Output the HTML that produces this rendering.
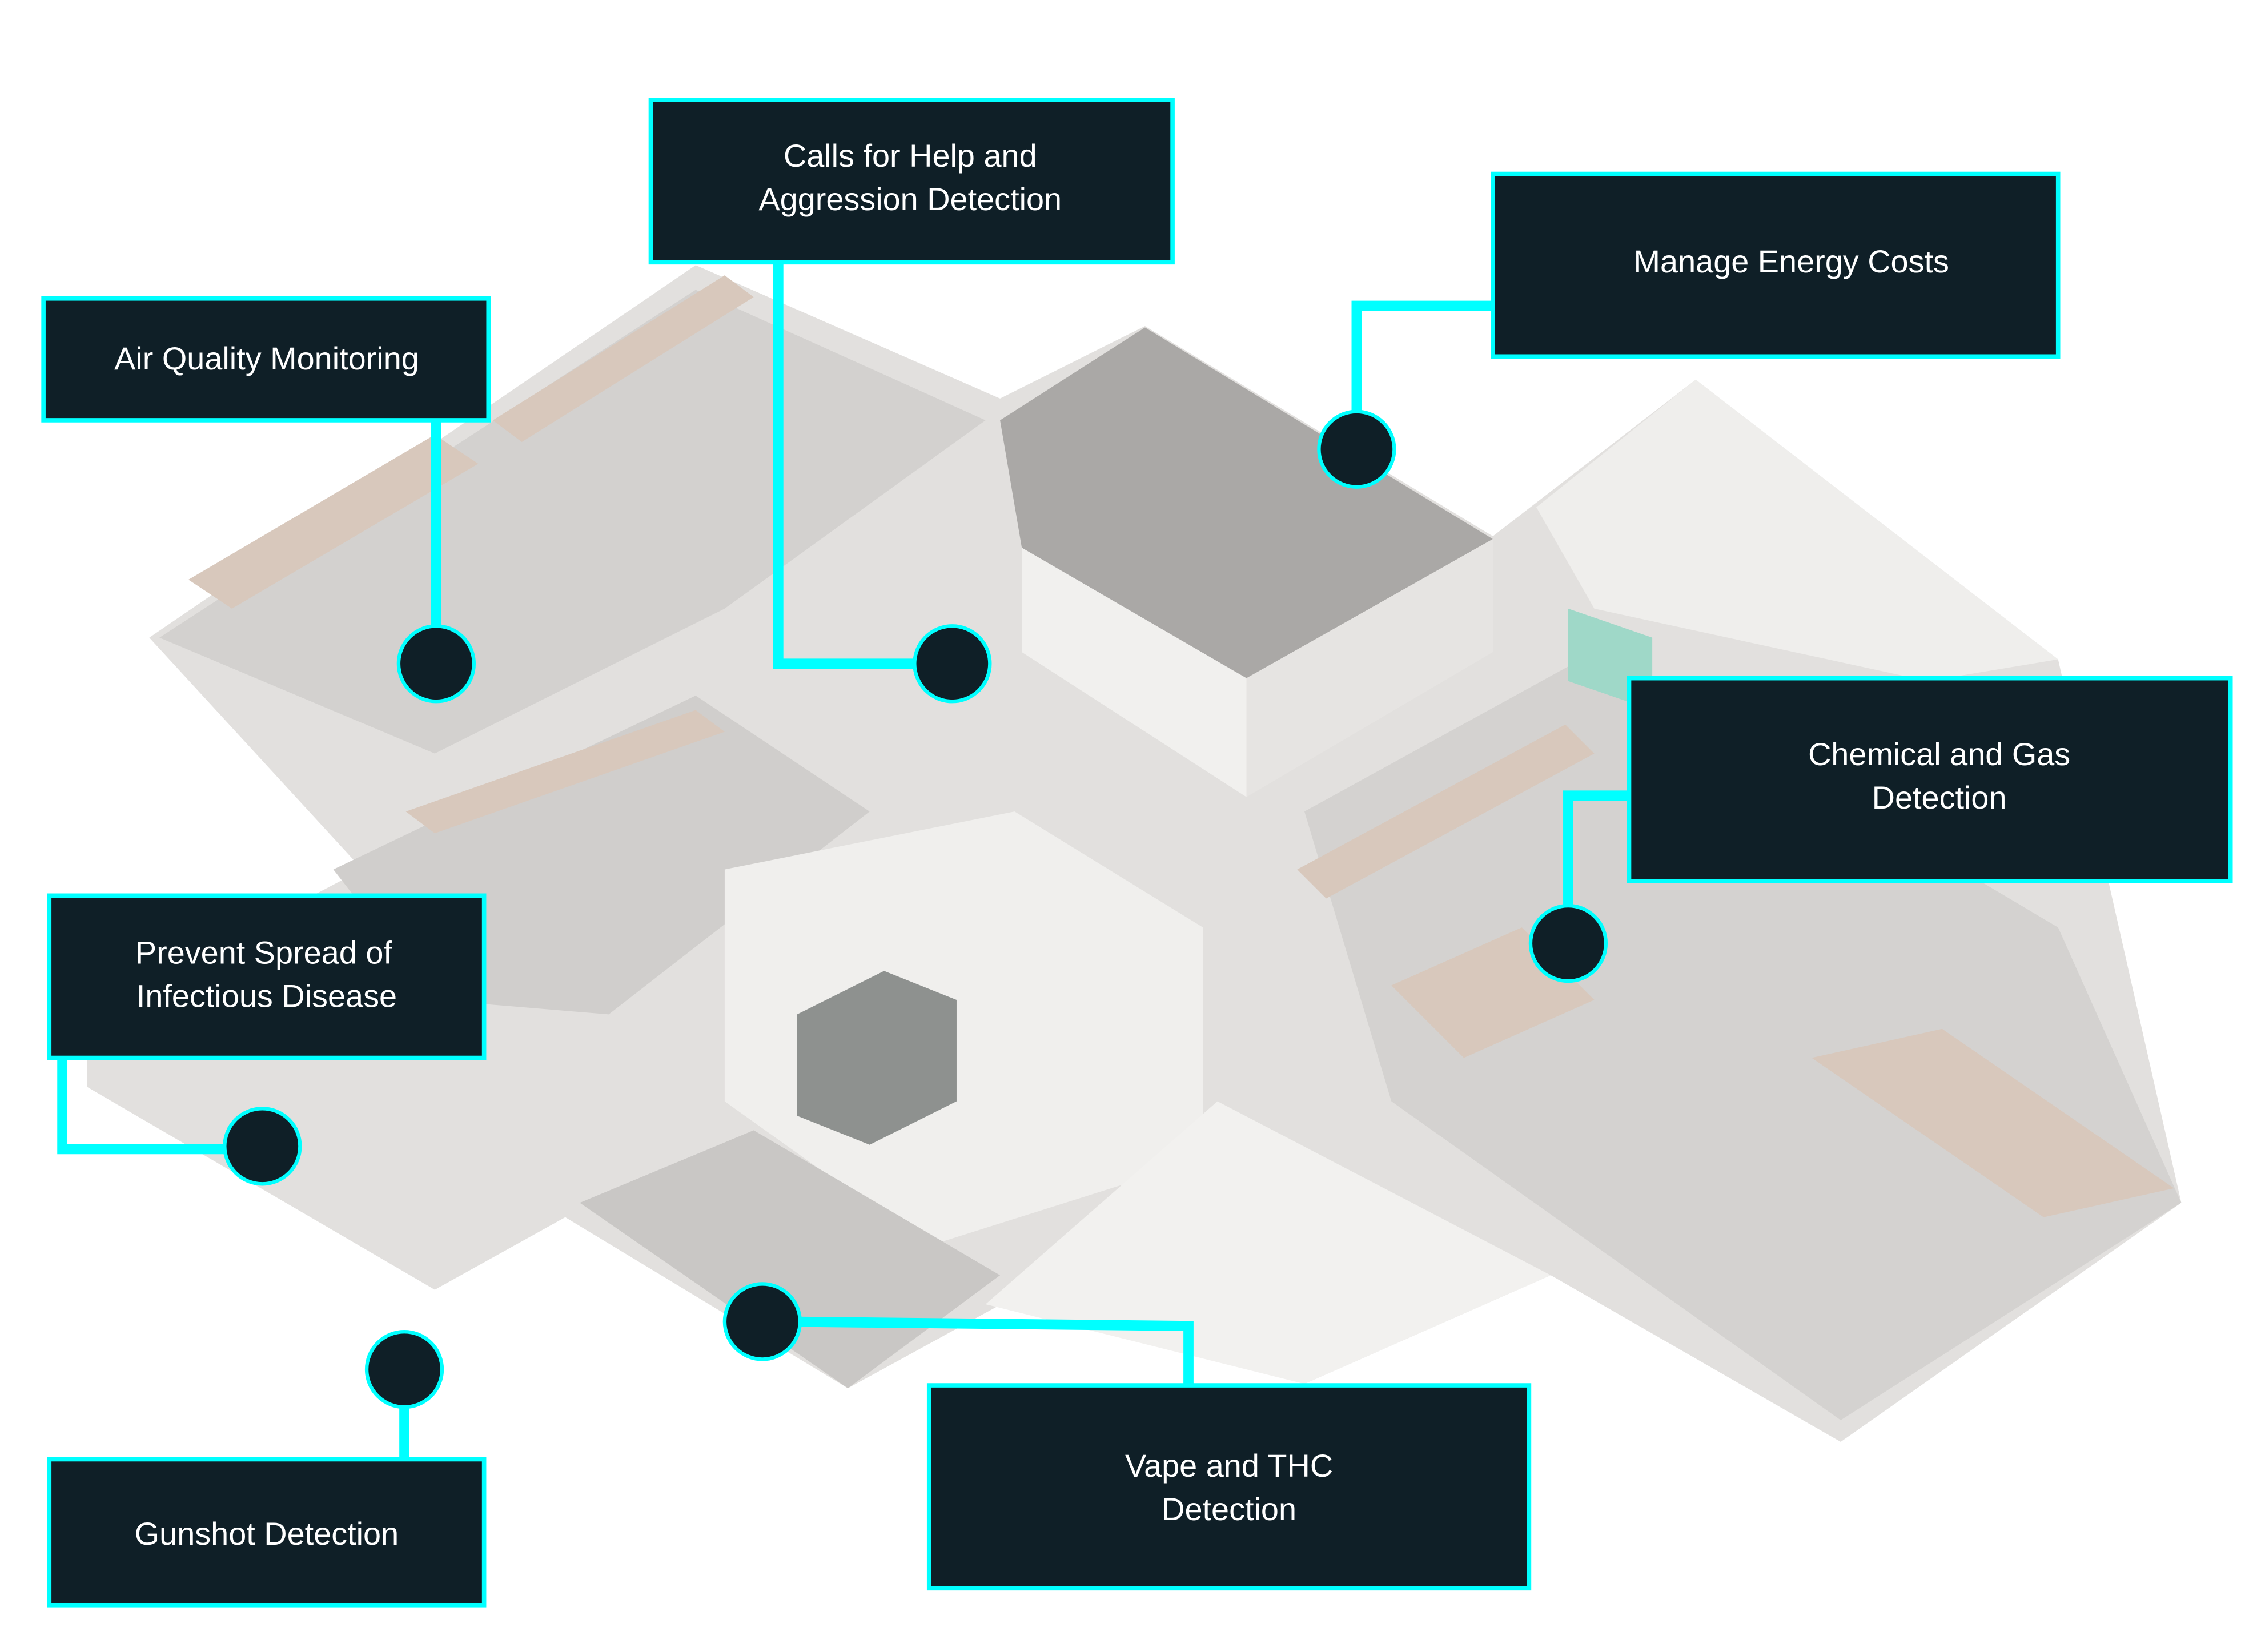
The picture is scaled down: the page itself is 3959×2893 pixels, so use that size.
<!DOCTYPE html>
<html><head><meta charset="utf-8"><style>
html,body{margin:0;padding:0;background:#fff;}
svg{display:block;}
</style></head><body>
<svg width="3959" height="2893" viewBox="0 0 1560 1140" preserveAspectRatio="none" xmlns="http://www.w3.org/2000/svg">
<rect width="1560" height="1140" fill="#fff"/>
<!-- floor plan approximation -->
<polygon points="103,440 480,183 690,275 790,225 1030,370 1170,262 1420,455 1505,830 1270,995 1070,880 900,955 700,895 585,958 390,840 300,890 60,750 60,700 250,600 103,440" fill="#e2e0de"/>
<polygon points="110,440 480,200 680,290 500,420 300,520" fill="#d3d1cf"/>
<polygon points="230,600 480,480 600,560 420,700 300,690" fill="#d0cecc"/>
<polygon points="900,560 1100,450 1420,640 1505,830 1270,980 960,760" fill="#d4d2d0"/>
<polygon points="500,600 700,560 830,640 830,800 640,860 500,760" fill="#f0efed"/>
<polygon points="680,900 840,760 1070,880 900,955" fill="#f2f1ef"/>
<polygon points="400,830 520,780 690,880 585,958" fill="#c9c7c5"/>
<polygon points="1060,350 1170,262 1420,455 1330,470 1100,420" fill="#efeeec"/>
<!-- tan desks -->
<polygon points="130,400 300,300 330,320 160,420" fill="#d8c8bc"/>
<polygon points="340,290 500,190 520,205 360,305" fill="#d8c8bc"/>
<polygon points="280,560 480,490 500,505 300,575" fill="#d8c8bc"/>
<polygon points="895,600 1080,500 1100,520 915,620" fill="#d8c8bc"/>
<polygon points="1250,730 1340,710 1500,820 1410,840" fill="#d8c8bc"/>
<polygon points="960,680 1050,640 1100,690 1010,730" fill="#d8c8bc"/>
<!-- roof -->
<polygon points="690,290 790,226 1030,372 860,468 705,378" fill="#aaa8a6"/>
<polygon points="705,378 860,468 860,550 705,450" fill="#f1f0ee"/>
<polygon points="860,468 1030,372 1030,450 860,550" fill="#e6e4e2"/>
<polygon points="550,700 610,670 660,690 660,760 600,790 550,770" fill="#8e918f"/>
<polygon points="1082,420 1140,440 1140,490 1082,470" fill="#9fd8c8"/>

<!-- connectors -->
<g stroke="#00ffff" stroke-width="7" fill="none" stroke-linejoin="miter">
<polyline points="301,291 301,440"/>
<polyline points="537,182 537,458 640,458"/>
<polyline points="1029,211 936,211 936,290"/>
<polyline points="1123,549 1082,549 1082,630"/>
<polyline points="43,731 43,793 165,793"/>
<polyline points="279,960 279,1006"/>
<polyline points="540,912 820,915 820,955"/>
</g>
<g fill="#0f1f27" stroke="#00ffff" stroke-width="2.5">
<circle cx="301" cy="458" r="26"/>
<circle cx="657" cy="458" r="26"/>
<circle cx="936" cy="310" r="26"/>
<circle cx="1082" cy="651" r="26"/>
<circle cx="181" cy="791" r="26"/>
<circle cx="279" cy="945" r="26"/>
<circle cx="526" cy="912" r="26"/>
</g>
<g fill="#0f1f27" stroke="#00ffff" stroke-width="3">
<rect x="449" y="69" width="360" height="112"/>
<rect x="1030" y="120" width="390" height="126"/>
<rect x="30" y="206" width="307" height="84"/>
<rect x="1124" y="468" width="415" height="140"/>
<rect x="34" y="618" width="300" height="112"/>
<rect x="34" y="1007" width="300" height="101"/>
<rect x="641" y="956" width="414" height="140"/>
</g>
<g fill="#fff" font-family="Liberation Sans, sans-serif" font-size="22" text-anchor="middle">
<text x="628" y="115">Calls for Help and</text>
<text x="628" y="145">Aggression Detection</text>
<text x="1236" y="188">Manage Energy Costs</text>
<text x="184" y="255">Air Quality Monitoring</text>
<text x="1338" y="528">Chemical and Gas</text>
<text x="1338" y="558">Detection</text>
<text x="182" y="665">Prevent Spread of</text>
<text x="184" y="695">Infectious Disease</text>
<text x="184" y="1066">Gunshot Detection</text>
<text x="848" y="1019">Vape and THC</text>
<text x="848" y="1049">Detection</text>
</g>
</svg>
</body></html>
